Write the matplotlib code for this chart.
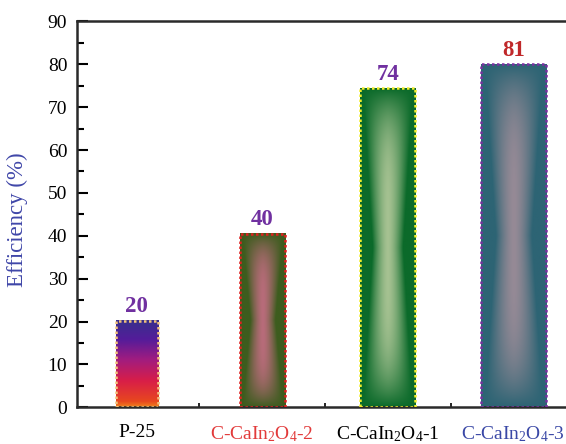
import numpy as np
import matplotlib
matplotlib.use("Agg")
from matplotlib import pyplot as plt
from matplotlib.colors import LinearSegmentedColormap, to_rgb

plt.rcParams['font.family'] = ['Liberation Serif', 'DejaVu Serif']
plt.rcParams['mathtext.default'] = 'regular'

# data
samples = ['P-25', r'C-CaIn$_2$O$_4$-2', r'C-CaIn$_2$O$_4$-1', r'C-CaIn$_2$O$_4$-3']
heights = [20.2, 40.5, 74.4, 80.0]
value_labels = ['20', '40', '74', '81']

# styling
label_colors = ['black', '#e23a3a', 'black', '#3a48a6']
value_colors = ['#7030a0', '#7030a0', '#7030a0', '#c0282a']
widths = [0.335, 0.36, 0.44, 0.52]
edge_colors = ['#f2c27a', '#e02020', '#f2ee2a', '#7a2fa0']
glow = [None, ('#3d5c1e', '#b86c7a'), ('#0b6a2a', '#a6c292'), ('#2d6474', '#968a96')]


def vertical_gradient():
    cmap = LinearSegmentedColormap.from_list('p25', [
        (0.0, '#f2821e'), (0.06, '#e8481e'), (0.3, '#d81e48'),
        (0.55, '#a01c80'), (0.78, '#541c9a'), (1.0, '#38308c')])
    v = np.linspace(0, 1, 200)[:, None] * np.ones((1, 40))
    return cmap(v)


def glow_gradient(edge, center, ny=300, nx=60):
    u = np.linspace(-1, 1, nx)[None, :]
    v = np.linspace(-1, 1, ny)[:, None]
    w = 0.55 + 0.35 * np.abs(v)
    iu = np.clip(1 - (np.abs(u) / w) ** 1.6, 0, 1)
    iv = 1 - np.abs(v) ** 4
    t = (iu * iv)[:, :, None]
    e = np.array(to_rgb(edge))
    c = np.array(to_rgb(center))
    return e * (1 - t) + c * t


fig = plt.figure(figsize=(5.66, 4.44), dpi=100)
ax = fig.add_axes([0.136, 0.0827, 0.882, 0.869])

x = np.arange(1, len(samples) + 1)
bars = ax.bar(x, heights, width=widths, facecolor='none',
              edgecolor=edge_colors, linewidth=1.8, linestyle=(0, (1, 1)), zorder=3)

for i, b in enumerate(bars):
    x0, w, h = b.get_x(), b.get_width(), b.get_height()
    img = vertical_gradient() if glow[i] is None else glow_gradient(*glow[i])
    ax.imshow(img, extent=(x0, x0 + w, 0, h), origin='lower', aspect='auto',
              interpolation='bilinear', zorder=2)
    ax.annotate(value_labels[i], (x0 + w / 2, h), xytext=(0, 2.5), textcoords='offset points',
                ha='center', va='bottom', fontsize=16.5, fontweight='bold',
                color=value_colors[i])

ax.set_xlim(0.525, 4.5)
ax.set_ylim(0, 90)
ax.set_yticks(np.arange(0, 91, 10))
ax.set_yticks(np.arange(5, 90, 10), minor=True)
ax.set_xticks(x)
ax.set_xticks([1.5, 2.5, 3.5], minor=True)
ax.set_xticklabels(samples)
for lbl, c in zip(ax.get_xticklabels(), label_colors):
    lbl.set_color(c)

ax.tick_params(axis='y', which='major', direction='in', length=8, width=1.5,
               labelsize=14, pad=7)
ax.tick_params(axis='y', which='minor', direction='in', length=5, width=1.5)
ax.tick_params(axis='x', which='major', length=0, labelsize=14, pad=12)
ax.tick_params(axis='x', which='minor', direction='in', length=3, width=1.2)
ax.tick_params(right=False, top=False, which='both')

for s in ['left', 'top', 'bottom', 'right']:
    ax.spines[s].set_linewidth(1.8)
    ax.spines[s].set_color('#2a2a2a')

fig.text(17.5 / 566, 1 - 220 / 444, 'Efficiency (%)', rotation=90, ha='center', va='center',
         fontsize=16.5, color='#3f46a8')

fig.savefig('out.png', dpi=100)
